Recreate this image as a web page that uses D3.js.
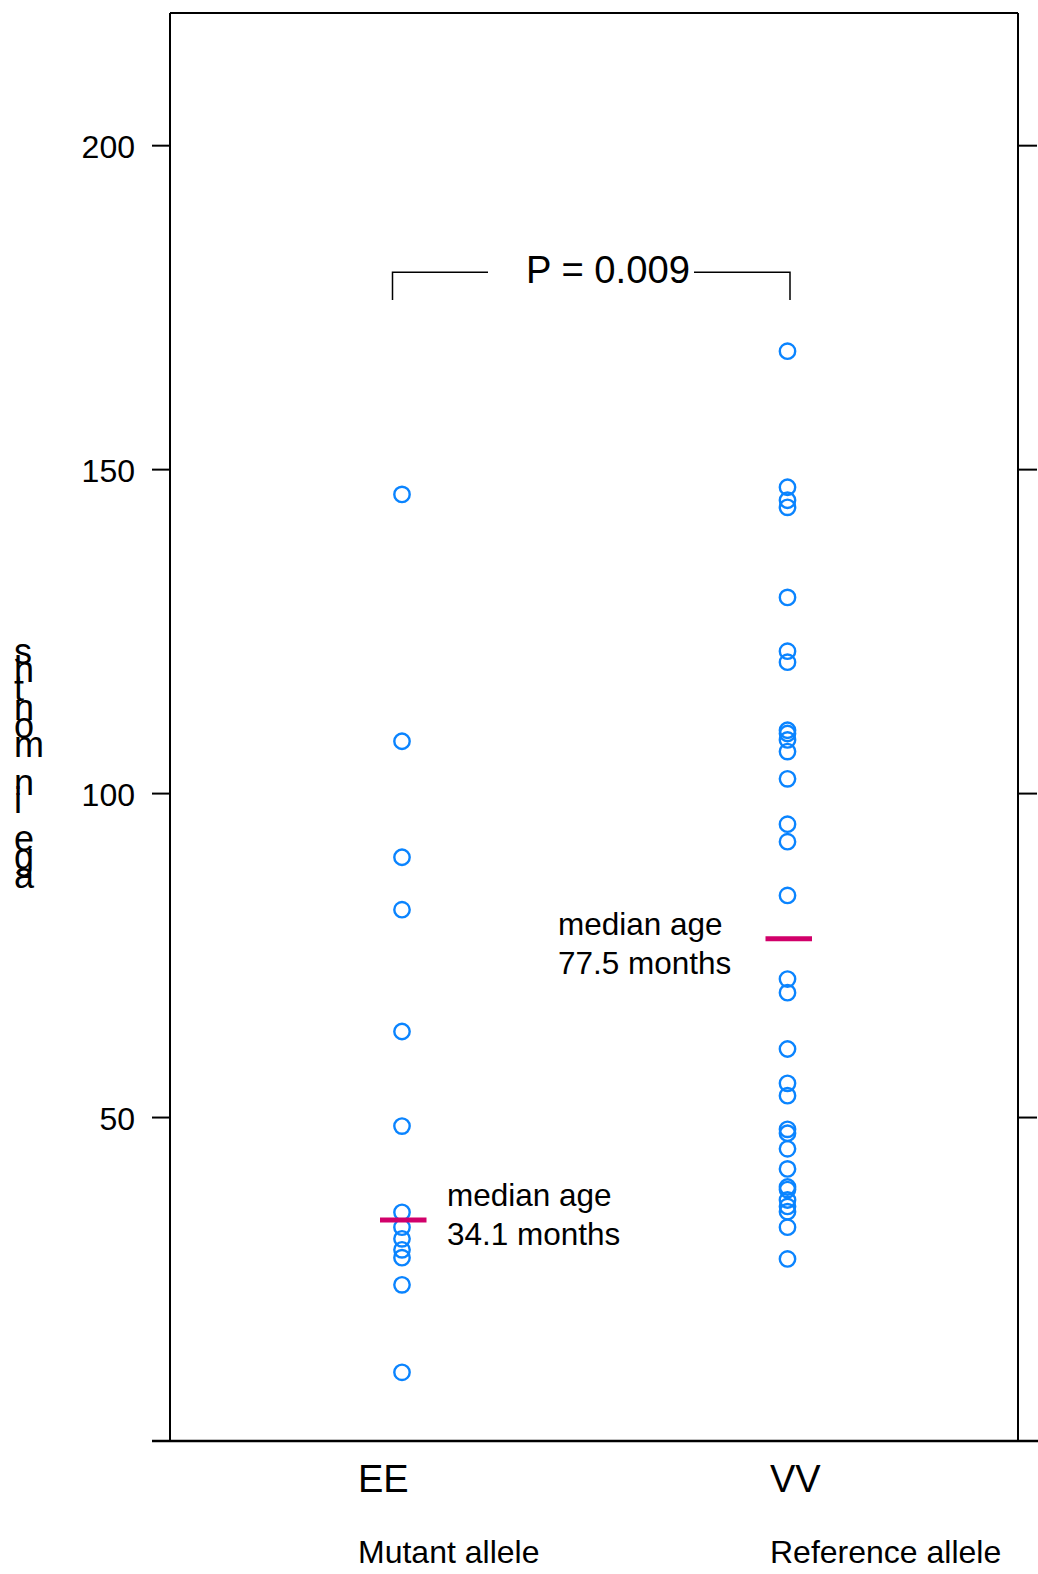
<!DOCTYPE html>
<html>
<head>
<meta charset="utf-8">
<script src="https://cdn.jsdelivr.net/npm/d3@7"></script>
<style>
  body { margin: 0; background: #fff; }
  text { font-family: "Liberation Sans", Arial, sans-serif; fill: #000; }
</style>
</head>
<body>
<script>
// genotype groups and the ages (months)
var groups = ["EE", "VV"];
var groupNames = ["Mutant allele", "Reference allele"];
var eeAges = [146.1, 108.0, 90.1, 82.0, 63.2, 48.6, 35.3, 33.0, 31.2, 29.5, 28.3, 24.1, 10.6];
var vvAges = [168.2, 147.2, 145.2, 144.1, 130.2, 121.9, 120.2, 109.7, 109.2, 108.2, 106.4,
              102.2, 95.2, 92.5, 84.2, 71.3, 69.2, 60.5, 55.2, 53.3, 48.1, 47.5, 45.1, 42.0,
              39.2, 38.8, 37.2, 36.2, 35.4, 33.0, 28.1];
var medians = [34.1, 77.5];
var medianText = [["median age", "34.1 months"], ["median age", "77.5 months"]];
var yTicks = [50, 100, 150, 200];
var yLabel = "age in months";
var pText = "P = 0.009";

var W = 1038, H = 1574;
// plot box edges (note: "top" is a reserved window prop, so use other names)
var boxL = 170, boxR = 1018, boxT = 13, boxB = 1441;

var svg = d3.select('body').append('svg')
    .attr('width', W)
    .attr('height', H);

// scales
var x = d3.scaleLinear().domain([1, 2]).range([402, 787.5]);
var y = d3.scaleLinear().domain([0, 220.4]).range([boxB, boxT]);

// frame: top, and the longer bottom line
svg.append('line').attr('x1', boxL).attr('x2', boxR).attr('y1', boxT).attr('y2', boxT)
  .attr('stroke', '#000').attr('stroke-width', 2);
svg.append('line').attr('x1', 152).attr('x2', W).attr('y1', boxB).attr('y2', boxB)
  .attr('stroke', '#000').attr('stroke-width', 2.5);

// left axis
var yAxisL = d3.axisLeft(y).tickValues(yTicks).tickSize(18).tickPadding(17).tickSizeOuter(0);
var gL = svg.append('g')
    .attr('transform', 'translate(' + boxL + ',0)')
    .call(yAxisL);
gL.select('.domain').remove();
gL.append('line').attr('y1', boxT).attr('y2', boxB).attr('stroke', '#000').attr('stroke-width', 2);
gL.selectAll('.tick line').attr('stroke-width', 2);
gL.selectAll('.tick text')
    .style('font-size', '32px')
    .style('font-family', '"Liberation Sans", Arial, sans-serif')
    .attr('dy', '0.4em');

// right axis, ticks only
var yAxisR = d3.axisRight(y).tickValues(yTicks).tickSize(19).tickFormat('').tickSizeOuter(0);
var gR = svg.append('g')
    .attr('transform', 'translate(' + boxR + ',0)')
    .call(yAxisR);
gR.select('.domain').remove();
gR.append('line').attr('y1', boxT).attr('y2', boxB).attr('stroke', '#000').attr('stroke-width', 2);
gR.selectAll('.tick line').attr('stroke-width', 2);

// y label: upright letters stacked bottom to top
var chars = yLabel.split('');
svg.append('g').selectAll('text')
    .data(chars)
    .enter()
  .append('text')
    .attr('x', 14)
    .attr('y', function (d, i) { return 888 - i * 18.7 })
    .style('font-size', '36px')
    .text(function (d) { return d });

// points
var pts = [];
eeAges.forEach(function (v) { pts.push({ g: 1, v: v }) });
vvAges.forEach(function (v) { pts.push({ g: 2, v: v }) });
svg.append('g').selectAll('circle')
    .data(pts)
    .enter()
  .append('circle')
    .attr('cx', function (d) { return x(d.g) })
    .attr('cy', function (d) { return y(d.v) })
    .attr('r', 7.7)
    .attr('fill', 'none')
    .attr('stroke', '#0a84ff')
    .attr('stroke-width', 2.4);

// median bars
svg.append('g').selectAll('line')
    .data(medians)
    .enter()
  .append('line')
    .attr('x1', function (d, i) { return x(i + 1) - 22 })
    .attr('x2', function (d, i) { return x(i + 1) + 24.5 })
    .attr('y1', function (d) { return y(d) })
    .attr('y2', function (d) { return y(d) })
    .attr('stroke', '#d1006a')
    .attr('stroke-width', 5);

// median labels
var labelPos = [{ x: 447, y: y(medians[0]) - 14 }, { x: 558, y: y(medians[1]) - 4 }];
medianText.forEach(function (lines, i) {
  var t = svg.append('text')
      .attr('x', labelPos[i].x)
      .attr('y', labelPos[i].y)
      .style('font-size', '31.5px');
  lines.forEach(function (s, j) {
    t.append('tspan')
      .attr('x', labelPos[i].x)
      .attr('dy', j === 0 ? 0 : 39)
      .text(s);
  });
});

// significance bracket
var bTop = y(180.4), bBot = y(176.1);
var bx1 = x(1) - 9.5, bx2 = x(2) + 2.5;
svg.append('path')
    .attr('d', 'M' + bx1 + ',' + bBot + 'V' + bTop + 'H488')
    .attr('fill', 'none').attr('stroke', '#000').attr('stroke-width', 1.5);
svg.append('path')
    .attr('d', 'M694,' + bTop + 'H' + bx2 + 'V' + bBot)
    .attr('fill', 'none').attr('stroke', '#000').attr('stroke-width', 1.5);
svg.append('text')
    .attr('x', 526)
    .attr('y', 283)
    .attr('textLength', 164)
    .attr('lengthAdjust', 'spacingAndGlyphs')
    .style('font-size', '39px')
    .text(pText);

// group labels under the axis
var codeX = [358, 770];
svg.append('g').selectAll('text')
    .data(groups)
    .enter()
  .append('text')
    .attr('x', function (d, i) { return codeX[i] })
    .attr('y', 1492)
    .style('font-size', '38px')
    .text(function (d) { return d });
svg.append('g').selectAll('text')
    .data(groupNames)
    .enter()
  .append('text')
    .attr('x', function (d, i) { return codeX[i] })
    .attr('y', 1563)
    .style('font-size', '32px')
    .text(function (d) { return d });
</script>
</body>
</html>
